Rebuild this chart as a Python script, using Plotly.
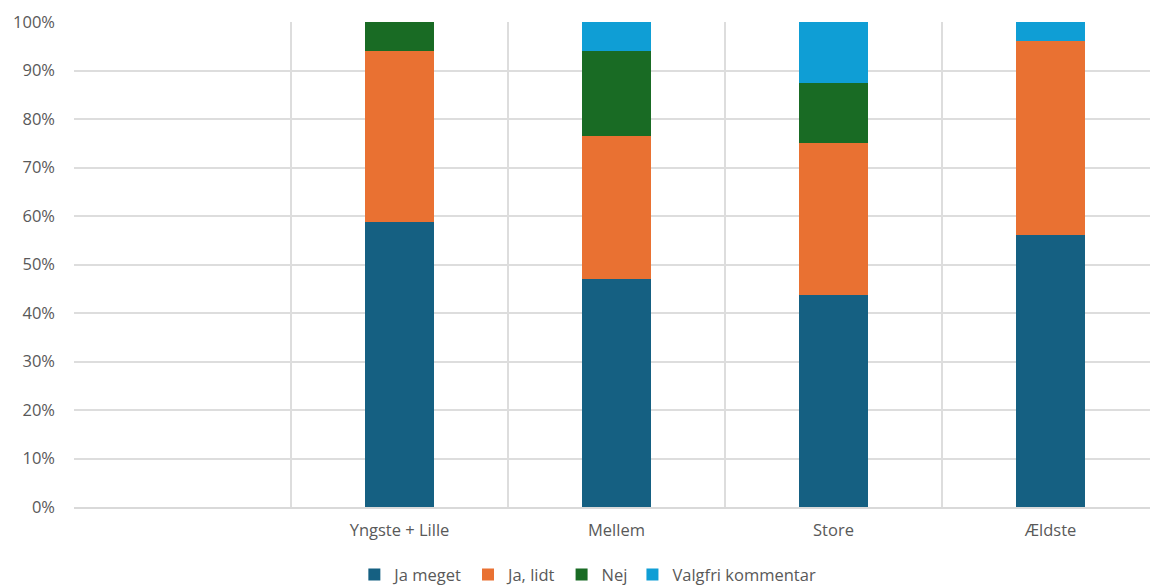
import plotly.graph_objects as go

categories = [" ", "Yngste + Lille", "Mellem", "Store", "Ældste"]
ja_meget = [None, 58.8, 47.1, 43.75, 56.0]
ja_lidt = [None, 35.3, 29.4, 31.25, 40.0]
nej = [None, 5.9, 17.6, 12.5, 0.0]
valgfri = [None, 0.0, 5.9, 12.5, 4.0]
y_ticks = [0, 10, 20, 30, 40, 50, 60, 70, 80, 90, 100]
y_ticklabels = [f"{v}%" for v in y_ticks]

series = [
    ("Ja meget", ja_meget, "#156082"),
    ("Ja, lidt", ja_lidt, "#E97132"),
    ("Nej", nej, "#196B24"),
    ("Valgfri kommentar", valgfri, "#0F9ED5"),
]

fig = go.Figure()
for name, vals, col in series:
    fig.add_trace(go.Bar(x=categories, y=vals, name=name, marker=dict(color=col, line=dict(width=0)),
                         width=0.32))

font = "Open Sans, Noto Sans, sans-serif"
fs = 16.5
fig.update_layout(
    barmode="stack",
    width=1158, height=585,
    margin=dict(l=66, r=7, t=14, b=86),
    plot_bgcolor="white", paper_bgcolor="white",
    font=dict(family=font, size=fs, color="#595959"),
    legend=dict(orientation="h", x=0.4736, xanchor="center", yref="container", y=0.031, yanchor="middle",
                font=dict(size=fs, color="#595959"), itemwidth=30, traceorder="normal"),
    showlegend=True,
)
fig.update_xaxes(type="category", categoryorder="array", categoryarray=categories,
                 tickson="boundaries", showgrid=True, gridcolor="#DDDDDD", gridwidth=1.5,
                 showline=True, linecolor="#D9D9D9", linewidth=1.5, ticks="", ticklen=0,
                 range=[-0.5, 4.5], tickfont=dict(size=fs, color="#595959"),
                 automargin=False, ticklabelstandoff=7)
fig.update_yaxes(range=[0, 100], tickvals=y_ticks, ticktext=y_ticklabels,
                 showgrid=True, gridcolor="#DDDDDD", gridwidth=1.5, zeroline=False,
                 showline=False, ticks="", tickfont=dict(size=fs, color="#595959"),
                 automargin=False, ticklabelstandoff=18)

fig.write_html("out.html")
